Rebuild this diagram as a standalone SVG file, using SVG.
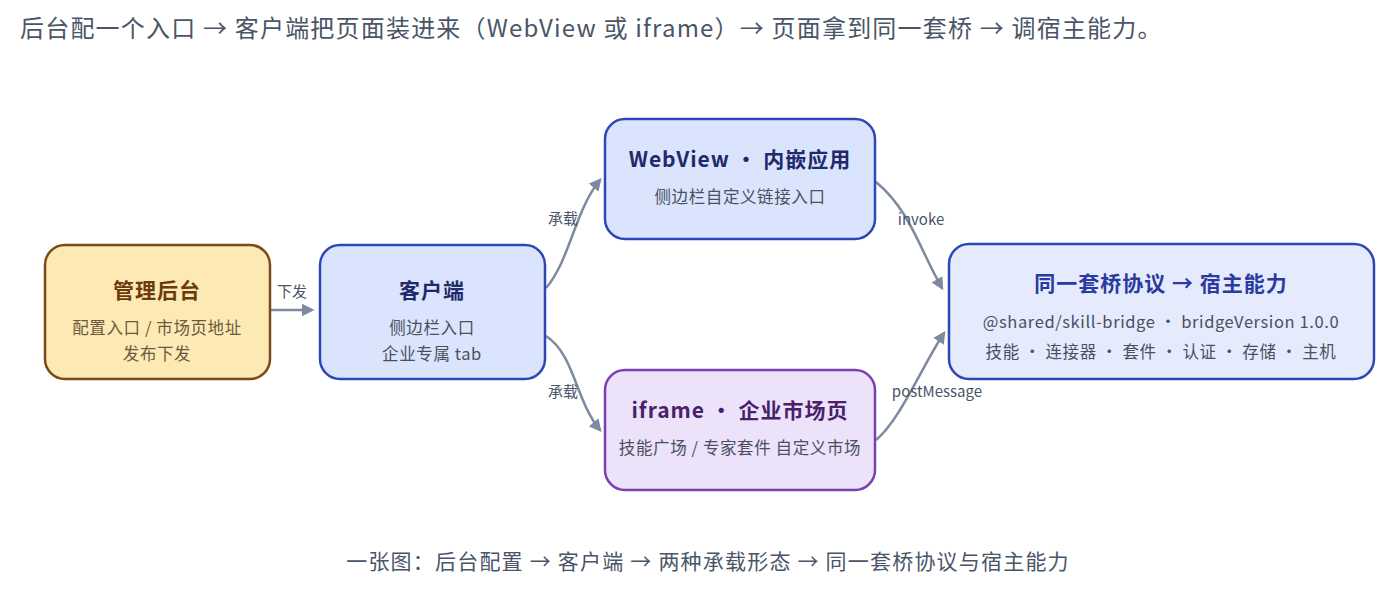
<svg xmlns="http://www.w3.org/2000/svg" width="1385" height="592" viewBox="0 0 1385 592">
<style>
text{font-family:"Noto Sans CJK SC","Liberation Sans",sans-serif;text-anchor:middle}
.t{font-size:21px;font-weight:bold;letter-spacing:1px}
.s{font-size:16.5px;letter-spacing:0.6px}
.l{font-size:15px;fill:#4a5568}
.c{fill:none;stroke:#7d8aa0;stroke-width:2.5}
</style>
<defs><marker id="a" viewBox="0 0 10 10" refX="8" refY="5" markerWidth="5" markerHeight="5" orient="auto"><path d="M0 0L10 5L0 10z" fill="#7d8aa0"/></marker></defs>
<rect width="1385" height="592" fill="#fff"/>
<text x="20" y="37" style="text-anchor:start;font-size:24px;letter-spacing:1.2px" fill="#4a5568">后台配一个入口 → 客户端把页面装进来（WebView 或 iframe）→ 页面拿到同一套桥 → 调宿主能力。</text>
<g id="connectors">
<path class="c" d="M270 310H312" marker-end="url(#a)"/>
<path class="c" d="M546 288C570 260 575 210 600 180" marker-end="url(#a)"/>
<path class="c" d="M546 336C575 355 575 400 600 430" marker-end="url(#a)"/>
<path class="c" d="M876 182C910 210 920 250 942 288" marker-end="url(#a)"/>
<path class="c" d="M876 440C900 420 920 370 944 333" marker-end="url(#a)"/>
<text class="l" x="292" y="297">下发</text>
<text class="l" x="563" y="224">承载</text>
<text class="l" x="563" y="397">承载</text>
<text class="l" x="921" y="225">invoke</text>
<text class="l" x="937" y="397">postMessage</text>
</g>
<g id="admin"><rect x="45" y="245" width="225" height="134" rx="20" fill="#fde9b4" stroke="#7a4a18" stroke-width="2.5"/>
<text class="t" x="157" y="298" fill="#6b3b0e">管理后台</text><text class="s" x="157" y="334" fill="#6b5a40">配置入口 / 市场页地址</text><text class="s" x="157" y="360" fill="#6b5a40">发布下发</text></g>
<g id="client"><rect x="320" y="245" width="225" height="134" rx="20" fill="#dbe4fd" stroke="#2f47b5" stroke-width="2.5"/>
<text class="t" x="432" y="298" fill="#1f2a6b">客户端</text><text class="s" x="432" y="334" fill="#4a5060">侧边栏入口</text><text class="s" x="432" y="360" fill="#4a5060">企业专属 tab</text></g>
<g id="webview"><rect x="605" y="119" width="270" height="120" rx="20" fill="#dbe4fd" stroke="#2f47b5" stroke-width="2.5"/>
<text class="t" x="740" y="167" fill="#1f2a6b">WebView · 内嵌应用</text><text class="s" x="740" y="203" fill="#4a5060">侧边栏自定义链接入口</text></g>
<g id="iframe"><rect x="605" y="370" width="270" height="120" rx="20" fill="#ece2fa" stroke="#7a3fb0" stroke-width="2.5"/>
<text class="t" x="740" y="418" fill="#4a1f6b">iframe · 企业市场页</text><text class="s" x="740" y="454" fill="#4a5060">技能广场 / 专家套件 自定义市场</text></g>
<g id="bridge"><rect x="949" y="244" width="425" height="135" rx="20" fill="#e5eafd" stroke="#2f47b5" stroke-width="2.5"/>
<text class="t" x="1161" y="291" fill="#2a3a9e">同一套桥协议 → 宿主能力</text><text class="s" x="1161" y="328" fill="#4a5060">@shared/skill-bridge · bridgeVersion 1.0.0</text><text class="s" x="1161" y="358" fill="#4a5060">技能 · 连接器 · 套件 · 认证 · 存储 · 主机</text></g>
<text x="708" y="569" style="font-size:21px;letter-spacing:1.2px" fill="#4a5568">一张图：后台配置 → 客户端 → 两种承载形态 → 同一套桥协议与宿主能力</text>
</svg>
